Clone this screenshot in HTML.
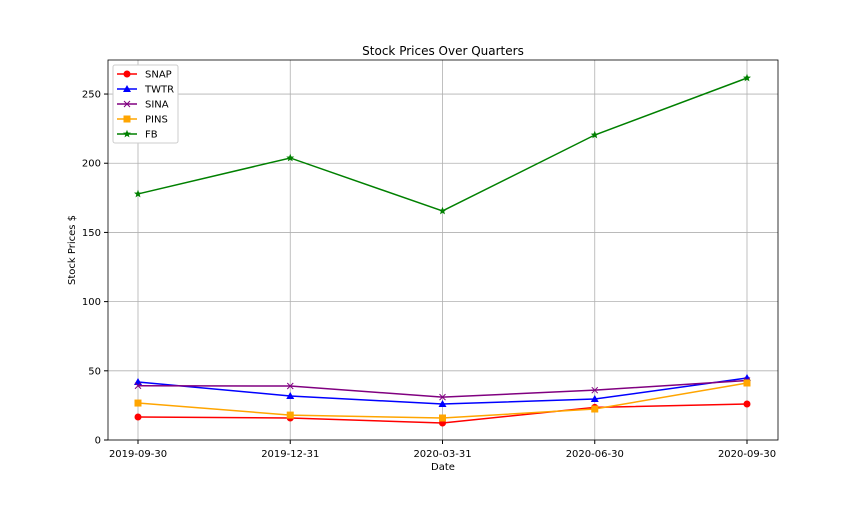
<!DOCTYPE html>
<html><head><meta charset="utf-8"><style>
body{margin:0;background:#fff;font-family:"DejaVu Sans","Liberation Sans",sans-serif;}
svg text{font-family:"DejaVu Sans","Liberation Sans",sans-serif;}
</style></head><body>
<svg id="chart" width="864" height="504" xmlns="http://www.w3.org/2000/svg"></svg>
<script>
const categories=["2019-09-30","2019-12-31","2020-03-31","2020-06-30","2020-09-30"];
const snap=[16.6,15.9,12.3,23.6,26];
const twtr=[41.9,31.8,26,29.6,44.8];
const sina=[39.2,39,31,36,43];
const pins=[26.7,18,15.9,22.4,41.2];
const fb=[177.8,203.8,165.5,220.4,261.6];
const yTicks=[0,50,100,150,200,250];
const seriesNames=["SNAP","TWTR","SINA","PINS","FB"];
const seriesData=[snap,twtr,sina,pins,fb];
const colors=["red","blue","purple","orange","green"];
const markers=["circle","triangle","x","square","star"];
const L=108,R=778,T=60,B=440,yMax=274.6;
const xS=i=>138+i*(747-138)/(categories.length-1);
const yS=v=>B-(v/yMax)*(B-T);
const svg=document.getElementById('chart');
const NS="http://www.w3.org/2000/svg";
function mk(tag,attrs,parent){const e=document.createElementNS(NS,tag);for(const k in attrs)e.setAttribute(k,attrs[k]);(parent||svg).appendChild(e);return e;}
// grid
categories.forEach((c,i)=>{const g=mk('line',{x1:xS(i),x2:xS(i),y1:T,y2:B,stroke:'#b0b0b0','stroke-width':0.8});


mk('line',{x1:xS(i),x2:xS(i),y1:B,y2:B+4,stroke:'#000'});
const t=mk('text',{x:xS(i),y:B+17,'text-anchor':'middle','font-size':10});t.textContent=c;

});
yTicks.forEach(v=>{const g=mk('line',{x1:L,x2:R,y1:yS(v),y2:yS(v),stroke:'#b0b0b0','stroke-width':0.8});


mk('line',{x1:L-4,x2:L,y1:yS(v),y2:yS(v),stroke:'#000'});
const t=mk('text',{x:L-7,y:yS(v)+3.5,'text-anchor':'end','font-size':10});t.textContent=v;

});
function marker(type,x,y,c,g){
 if(type==='circle')mk('circle',{cx:x,cy:y,r:3.5,fill:c},g);
 else if(type==='triangle')mk('polygon',{points:`${x},${y-4} ${x-4},${y+3} ${x+4},${y+3}`,fill:c},g);
 else if(type==='square')mk('rect',{x:x-3.5,y:y-3.5,width:7,height:7,fill:c},g);
 else if(type==='x'){mk('line',{x1:x-3,y1:y-3,x2:x+3,y2:y+3,stroke:c,'stroke-width':1},g);mk('line',{x1:x-3,y1:y+3,x2:x+3,y2:y-3,stroke:c,'stroke-width':1},g);}
 else if(type==='star'){let p=[];for(let k=0;k<10;k++){const r=k%2?1.8:4.2,a=-Math.PI/2+k*Math.PI/5;p.push((x+r*Math.cos(a)).toFixed(2)+','+(y+r*Math.sin(a)).toFixed(2));}mk('polygon',{points:p.join(' '),fill:c},g);}
}
seriesData.forEach((d,s)=>{const g=mk('g',{});


mk('polyline',{points:d.map((v,i)=>xS(i)+','+yS(v)).join(' '),fill:'none',stroke:colors[s],'stroke-width':1.5},g);
d.forEach((v,i)=>marker(markers[s],xS(i),yS(v),colors[s],g));});
const fr=mk('rect',{x:L,y:T,width:R-L,height:B-T,fill:'none',stroke:'#000','stroke-width':0.8});


const ti=mk('text',{x:(L+R)/2,y:55,'text-anchor':'middle','font-size':12});ti.textContent='Stock Prices Over Quarters';


const xl=mk('text',{x:(L+R)/2,y:470,'text-anchor':'middle','font-size':10});xl.textContent='Date';


const yl=mk('text',{x:75,y:250,'text-anchor':'middle','font-size':10,transform:'rotate(-90 75 250)'});yl.textContent='Stock Prices $';


const lg=mk('g',{});


mk('rect',{x:113,y:65,width:65,height:78,fill:'#fff',stroke:'#ccc',rx:2},lg);
seriesNames.forEach((n,s)=>{const y=74+s*15;const e=mk('g',{},lg);


mk('line',{x1:117,x2:137,y1:y,y2:y,stroke:colors[s],'stroke-width':1.5},e);marker(markers[s],127,y,colors[s],e);
const t=mk('text',{x:145,y:y+3.5,'font-size':10},e);t.textContent=n;});
</script>
</body></html>
